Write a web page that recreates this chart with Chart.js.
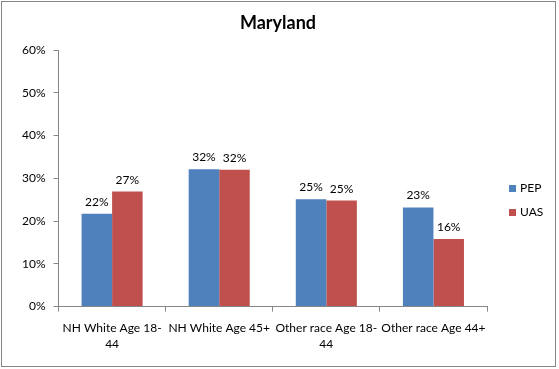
<!DOCTYPE html>
<html>
<head>
<meta charset="utf-8">
<script src="https://cdn.jsdelivr.net/npm/chart.js@4"></script>
<style>
html,body{margin:0;padding:0;background:#fff;}
canvas{display:block;}
</style>
</head>
<body>
<canvas id="c" width="559" height="369"></canvas>
<script>
const chartTitle = "Maryland";
const categories = [["NH White Age 18-","44"], "NH White Age 45+", ["Other race Age 18-","44"], "Other race Age 44+"];
const pepValues = [21.7, 32.1, 25.1, 23.2];
const uasValues = [26.9, 32.0, 24.8, 15.8];
const pepLabels = ["22%", "32%", "25%", "23%"];
const uasLabels = ["27%", "32%", "25%", "16%"];
const yTicks = [0, 10, 20, 30, 40, 50, 60];

const FONT = "Lato, 'Liberation Sans', sans-serif";
const axisColor = "#868686";

const frameAndTitle = {
  id: "frameAndTitle",
  afterDraw(chart) {
    const ctx = chart.ctx;
    ctx.save();
    ctx.strokeStyle = "#868686";
    ctx.lineWidth = 1;
    ctx.strokeRect(1.5, 1.5, chart.width - 5, chart.height - 4);
    ctx.font = "bold 18px " + FONT;
    ctx.fillStyle = "#000";
    ctx.textAlign = "center";
    ctx.textBaseline = "middle";
    ctx.fillText(chartTitle, 278, 23);
    ctx.restore();
  }
};

const sideLegend = {
  id: "sideLegend",
  afterDraw(chart) {
    const ctx = chart.ctx;
    const area = chart.chartArea;
    const x = area.right + 22;
    const yStart = area.top + 138.5;
    ctx.save();
    ctx.font = "12px " + FONT;
    ctx.textAlign = "left";
    ctx.textBaseline = "middle";
    chart.data.datasets.forEach((ds, i) => {
      const y = yStart + i * 24;
      ctx.fillStyle = ds.backgroundColor;
      ctx.fillRect(x, y - 3.5, 7, 7);
      ctx.fillStyle = "#000";
      ctx.fillText(ds.label, x + 11, y);
    });
    ctx.restore();
  }
};

const valueLabels = {
  id: "valueLabels",
  afterDatasetsDraw(chart) {
    const ctx = chart.ctx;
    const sets = [pepLabels, uasLabels];
    ctx.save();
    ctx.font = "12px " + FONT;
    ctx.fillStyle = "#000";
    ctx.textAlign = "center";
    ctx.textBaseline = "alphabetic";
    chart.data.datasets.forEach((ds, i) => {
      const meta = chart.getDatasetMeta(i);
      meta.data.forEach((bar, j) => {
        ctx.fillText(sets[i][j], bar.x, bar.y - 8);
      });
    });
    ctx.restore();
  }
};

new Chart(document.getElementById("c"), {
  type: "bar",
  data: {
    labels: categories,
    datasets: [
      { label: "PEP", data: pepValues, backgroundColor: "#4F81BD" },
      { label: "UAS", data: uasValues, backgroundColor: "#C0504D" }
    ]
  },
  options: {
    responsive: false,
    animation: false,
    devicePixelRatio: 1,
    layout: { padding: { top: 50, right: 72, left: 14, bottom: 9 } },
    datasets: { bar: { categoryPercentage: 0.57, barPercentage: 1.0 } },
    plugins: {
      title: { display: false },
      legend: { display: false },
      tooltip: { enabled: false }
    },
    scales: {
      x: {
        offset: true,
        grid: {
          offset: true,
          drawOnChartArea: false,
          drawTicks: true,
          tickLength: 5,
          color: axisColor
        },
        border: { color: axisColor },
        ticks: {
          color: "#000",
          font: { family: FONT, size: 12, lineHeight: 1.35 },
          maxRotation: 0,
          autoSkip: false,
          padding: 8
        }
      },
      y: {
        min: 0,
        max: 60,
        afterBuildTicks(axis) { axis.ticks = yTicks.map(v => ({ value: v })); },
        grid: {
          drawOnChartArea: false,
          drawTicks: true,
          tickLength: 5,
          color: axisColor
        },
        border: { color: axisColor },
        ticks: {
          color: "#000",
          font: { family: FONT, size: 12 },
          padding: 8,
          callback: v => v + "%"
        }
      }
    }
  },
  plugins: [frameAndTitle, valueLabels, sideLegend]
});
</script>
</body>
</html>
